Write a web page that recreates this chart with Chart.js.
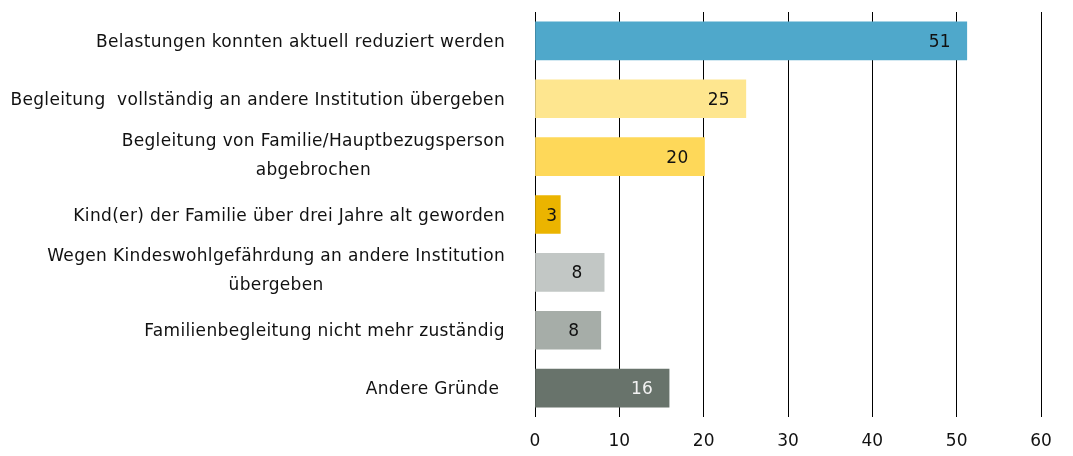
<!DOCTYPE html>
<html>
<head>
<meta charset="utf-8">
<script src="https://cdn.jsdelivr.net/npm/chart.js@4.4.1/dist/chart.umd.min.js"></script>
<style>
  html, body { margin: 0; padding: 0; background: #ffffff; }
  #wrap { width: 1073px; height: 456px; position: relative; }
</style>
</head>
<body>
<div id="wrap"><canvas id="c" width="1073" height="456"></canvas></div>
<script>
// ---- data ----
const categories = [
  ['Belastungen konnten aktuell reduziert werden'],
  ['Begleitung  vollständig an andere Institution übergeben'],
  ['Begleitung von Familie/Hauptbezugsperson', 'abgebrochen'],
  ['Kind(er) der Familie über drei Jahre alt geworden'],
  ['Wegen Kindeswohlgefährdung an andere Institution', 'übergeben'],
  ['Familienbegleitung nicht mehr zuständig'],
  ['Andere Gründe ']
];
const values = [51.2, 25, 20.1, 3, 8.2, 7.8, 15.9];
const valueLabels = ['51', '25', '20', '3', '8', '8', '16'];
const barColors = ['#4FA8CB', '#FEE68F', '#FED859', '#EBB400', '#C2C7C5', '#A6ADA8', '#68736B'];
const valueLabelColors = ['#111', '#111', '#111', '#111', '#111', '#111', '#F2F2F2'];
const xTicks = [0, 10, 20, 30, 40, 50, 60];

const FONT = '17px "DejaVu Sans"';
const LS = '0.34px';

const labelPlugin = {
  id: 'customLabels',
  afterDatasetsDraw(chart) {
    const ctx = chart.ctx;
    const meta = chart.getDatasetMeta(0);
    const yScale = chart.scales.y;
    ctx.save();
    ctx.font = FONT;
    try { ctx.letterSpacing = LS; } catch (e) {}
    ctx.textBaseline = 'alphabetic';
    // value labels
    meta.data.forEach((bar, i) => {
      const txt = valueLabels[i];
      const w = ctx.measureText(txt).width;
      let cx = bar.x - 27;
      if (cx - w / 2 < bar.base + 2) cx = bar.x - w / 2 - 3;
      ctx.fillStyle = valueLabelColors[i];
      ctx.textAlign = 'center';
      ctx.fillText(txt, cx, bar.y + 6);
    });
    // category labels
    const rightEdge = 505;
    const lh = 29;
    categories.forEach((lines, i) => {
      const cy = yScale.getPixelForValue(i);
      ctx.fillStyle = '#111';
      if (lines.length === 1) {
        ctx.textAlign = 'right';
        ctx.fillText(lines[0], rightEdge, cy + 6);
      } else {
        const maxW = Math.max(...lines.map(l => ctx.measureText(l).width));
        const mid = rightEdge - maxW / 2;
        ctx.textAlign = 'center';
        const n = lines.length;
        lines.forEach((l, j) => {
          const y = cy + (j - (n - 1) / 2) * lh + 3.5;
          ctx.fillText(l, mid, y);
        });
      }
    });
    ctx.restore();
  }
};

new Chart(document.getElementById('c'), {
  type: 'bar',
  data: {
    labels: categories.map(c => c.join(' ')),
    datasets: [{
      data: values,
      backgroundColor: barColors,
      borderWidth: 0,
      barThickness: 38
    }]
  },
  options: {
    indexAxis: 'y',
    responsive: false,
    animation: false,
    layout: { padding: { left: 0, right: 32, top: 12, bottom: 0 } },
    plugins: { legend: { display: false }, tooltip: { enabled: false } },
    scales: {
      x: {
        min: 0, max: 60,
        afterBuildTicks(scale) { scale.ticks = xTicks.map(v => ({ value: v })); },
        afterFit(scale) { scale.height = 39; },
        grid: { color: '#000', lineWidth: 1, drawTicks: false },
        border: { display: false },
        ticks: { color: '#111', font: { family: 'DejaVu Sans', size: 17 }, padding: 14, maxRotation: 0 }
      },
      y: {
        afterFit(scale) { scale.width = 535; },
        grid: { display: false },
        border: { display: false },
        ticks: { display: false }
      }
    }
  },
  plugins: [labelPlugin]
});
</script>
</body>
</html>
